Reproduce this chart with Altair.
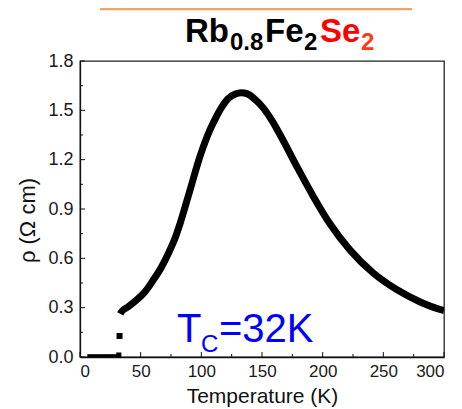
import altair as alt
import pandas as pd

# ---- data ----
curve_T = [33.2, 34.3, 39.8, 46.7, 53.6, 60.4, 67.3, 72.8, 78.3, 82.4, 90.7, 98.9,
           107.0, 112.0, 116.8, 122.0, 128.0, 133.0, 138.0, 144.0, 151.0, 158.0,
           165.0, 178.6, 192.4, 206.0, 222.6, 241.8, 261.0, 280.0, 298.0, 300.0]
curve_rho = [0.262, 0.276, 0.306, 0.347, 0.397, 0.468, 0.549, 0.630, 0.722, 0.810,
             1.016, 1.220, 1.380, 1.456, 1.520, 1.570, 1.599, 1.607, 1.600, 1.568,
             1.515, 1.440, 1.350, 1.160, 0.975, 0.810, 0.650, 0.510, 0.410, 0.336,
             0.286, 0.282]
zero_T = [6.0, 30.5]
zero_rho = [0.008, 0.008]
jump_T = [32.0, 32.6]
jump_rho = [0.012, 0.128]
jump_size = [26, 36]

x_major = [0, 50, 100, 150, 200, 250, 300]
x_minor = [25, 75, 125, 175, 225, 275]
y_major = [0.0, 0.3, 0.6, 0.9, 1.2, 1.5, 1.8]
y_minor = [0.15, 0.45, 0.75, 1.05, 1.35, 1.65]

title_parts = ["Rb", "0.8", "Fe", "2", "Se", "2"]
tc_parts = ["T", "C", "=32K"]

W, H = 364, 296
FONT = "Liberation Sans"
xs = alt.Scale(domain=[0, 300], nice=False, zero=False)
ys = alt.Scale(domain=[0, 1.8], nice=False, zero=False)

curve_df = pd.DataFrame({"T": curve_T, "rho": curve_rho})
zero_df = pd.DataFrame({"T": zero_T, "rho": zero_rho})
jump_df = pd.DataFrame({"T": jump_T, "rho": jump_rho, "s": jump_size})

x_axis = alt.Axis(values=x_major, ticks=False, tickSize=0, grid=False,
                  labelFont=FONT, labelFontSize=17, labelColor="#1a1a1a", labelPadding=6,
                  domainColor="#111", domainWidth=1.3,
                  title="Temperature (K)", titleFont=FONT, titleFontSize=21,
                  titleFontWeight="normal", titleColor="#111",
                  titleX=182, titleY=39, titleAlign="center", titleBaseline="middle")
y_axis = alt.Axis(values=y_major, format=".1f", ticks=False, tickSize=0, grid=False,
                  labelFont=FONT, labelFontSize=18, labelColor="#1a1a1a", labelPadding=7,
                  domainColor="#111", domainWidth=1.3,
                  title="ρ (Ω cm)", titleFont=FONT, titleFontSize=22,
                  titleFontWeight="normal", titleColor="#111", titleAngle=270,
                  titleX=-53, titleY=159, titleAlign="center", titleBaseline="middle")

curve = alt.Chart(curve_df).mark_line(color="black", strokeWidth=7, interpolate="monotone",
                                      strokeCap="butt", strokeJoin="round", clip=True).encode(
    x=alt.X("T:Q", scale=xs, axis=x_axis),
    y=alt.Y("rho:Q", scale=ys, axis=y_axis),
)
zero = alt.Chart(zero_df).mark_line(color="black", strokeWidth=3).encode(
    x=alt.X("T:Q", scale=xs), y=alt.Y("rho:Q", scale=ys))
jump = alt.Chart(jump_df).mark_square(color="black", opacity=1, filled=True).encode(
    x=alt.X("T:Q", scale=xs), y=alt.Y("rho:Q", scale=ys),
    size=alt.Size("s:Q", scale=None, legend=None))

# inward ticks
MAJ_Y, MIN_Y = 5 / (H / 1.8), 3 / (H / 1.8)
MAJ_X, MIN_X = 5 / (W / 300), 3 / (W / 300)
tick_style = dict(color="#111", strokeWidth=1)
xt_major = alt.Chart(pd.DataFrame({"v": x_major})).mark_rule(**tick_style).encode(
    x=alt.X("v:Q", scale=xs), y=alt.datum(0, scale=ys), y2=alt.datum(MAJ_Y))
xt_minor = alt.Chart(pd.DataFrame({"v": x_minor})).mark_rule(**tick_style).encode(
    x=alt.X("v:Q", scale=xs), y=alt.datum(0, scale=ys), y2=alt.datum(MIN_Y))
yt_major = alt.Chart(pd.DataFrame({"v": y_major})).mark_rule(**tick_style).encode(
    y=alt.Y("v:Q", scale=ys), x=alt.datum(0, scale=xs), x2=alt.datum(MAJ_X))
yt_minor = alt.Chart(pd.DataFrame({"v": y_minor})).mark_rule(**tick_style).encode(
    y=alt.Y("v:Q", scale=ys), x=alt.datum(0, scale=xs), x2=alt.datum(MIN_X))


def label(txt, px, py, size, color, weight="normal"):
    return alt.Chart(pd.DataFrame({"t": [txt]})).mark_text(
        align="left", baseline="alphabetic", font=FONT, fontSize=size,
        fontWeight=weight, color=color).encode(
        text="t:N", x=alt.value(px), y=alt.value(py))


BIG, SUB = 33, 24
title_layers = [
    label(title_parts[0], 105, -19, BIG, "black", "bold"),
    label(title_parts[1], 150, -11, SUB, "black", "bold"),
    label(title_parts[2], 185, -19, BIG, "black", "bold"),
    label(title_parts[3], 224, -11, SUB, "black", "bold"),
    label(title_parts[4], 240, -19, BIG, "#ff0000", "bold"),
    label(title_parts[5], 281, -11, SUB, "#ff3a1a", "bold"),
]
tc_layers = [
    label(tc_parts[0], 97, 281, 40, "#0000ff"),
    label(tc_parts[1], 121, 291, 24, "#0000ff"),
    label(tc_parts[2], 139, 281, 40, "#0000ff"),
]
orange = alt.Chart(pd.DataFrame({"a": [0]})).mark_rule(color="#f5a35f", strokeWidth=2.5).encode(
    x=alt.value(20), x2=alt.value(332), y=alt.value(-52))

chart = alt.layer(
    curve, zero, jump, xt_major, xt_minor, yt_major, yt_minor, orange,
    *title_layers, *tc_layers
).properties(
    width=W, height=H,
    autosize=alt.AutoSizeParams(type="none"),
    padding={"left": 72, "top": 53, "right": 8, "bottom": 51},
).configure_view(stroke="#222", strokeWidth=1.3)

chart.save("out.html", embed_options={"renderer": "svg", "actions": False})
